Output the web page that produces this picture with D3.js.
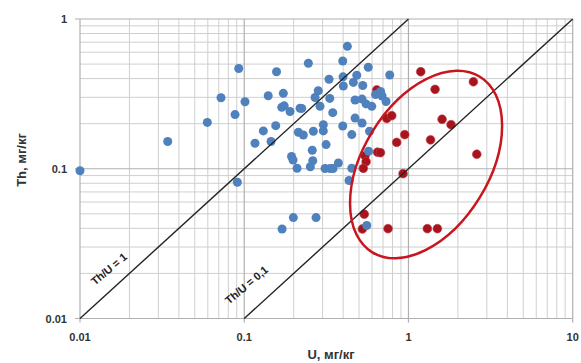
<!DOCTYPE html>
<html><head><meta charset="utf-8">
<script src="https://cdn.jsdelivr.net/npm/d3@7/dist/d3.min.js"></script>
<style>html,body{margin:0;padding:0;background:#fff;}svg{display:block;}</style>
</head><body>
<svg id="c" width="581" height="363"></svg>
<script>
// Blue series: U, Th (mg/kg)
const blueU  = [0.01,0.0342,0.0596,0.0722,0.0926,0.0879,0.1011,0.1163,0.1307,0.1456,0.1555,0.140,0.1573,0.173,0.1692,0.1752,0.190,0.1941,0.1983,0.2097,0.2136,0.2187,0.0908,0.1991,0.170,0.2737,0.4246,0.2457,0.398,0.569,0.769,0.3284,0.3997,0.4843,0.4618,0.5269,0.4013,0.2823,0.270,0.3317,0.4729,0.5217,0.5517,0.5976,0.6304,0.6764,0.6907,0.7304,0.2894,0.2239,0.3459,0.4729,0.5217,0.3031,0.398,0.3031,0.2635,0.2290,0.4516,0.5796,0.315,0.2595,0.2614,0.2527,0.3105,0.3331,0.3474,0.3742,0.4516,0.5715,0.4347,0.5572];
const blueTh = [0.097,0.152,0.204,0.298,0.467,0.230,0.280,0.148,0.179,0.152,0.194,0.3075,0.4445,0.319,0.257,0.263,0.241,0.1207,0.1144,0.1007,0.1754,0.2533,0.0812,0.0472,0.0396,0.0472,0.657,0.506,0.524,0.476,0.423,0.396,0.411,0.421,0.377,0.360,0.357,0.332,0.299,0.295,0.288,0.292,0.271,0.261,0.313,0.328,0.306,0.281,0.261,0.253,0.237,0.218,0.202,0.197,0.193,0.179,0.178,0.168,0.169,0.178,0.145,0.133,0.113,0.1032,0.1004,0.1004,0.1004,0.1093,0.1007,0.1308,0.0835,0.0418];
// Red series
const redU  = [1.188,2.485,1.452,0.641,0.738,0.791,1.602,1.817,0.949,0.848,1.363,2.606,0.648,0.675,0.544,0.552,0.531,0.927,0.538,0.524,0.751,1.303,1.500];
const redTh = [0.4445,0.381,0.339,0.336,0.2166,0.226,0.214,0.197,0.169,0.150,0.156,0.125,0.129,0.128,0.122,0.1115,0.1007,0.0927,0.0497,0.0396,0.0398,0.0398,0.0398];
// Reference lines Th/U
const ratioLines = [{ratio:1, u0:0.01, u1:1, label:"Th/U = 1"},{ratio:0.1, u0:0.1, u1:10, label:"Th/U = 0,1"}];
const xTicks = [0.01,0.1,1,10];
const xTickLabels = ["0.01","0.1","1","10"];
const yTicks = [0.01,0.1,1];
const yTickLabels = ["0.01","0.1","1"];
const ellipseCenter = {u:1.28, th:0.1067};

const svg = d3.select("#c");
const L=80, R=572.7, T=19, B=318.5;
const x = d3.scaleLog().domain([0.01,10]).range([L,R]);
const y = d3.scaleLog().domain([0.01,1]).range([B,T]);

// minor grid
const minorX=[], minorY=[];
[0.01,0.1,1].forEach(d=>{for(let k=2;k<=9;k++) minorX.push(d*k);});
[0.01,0.1].forEach(d=>{for(let k=2;k<=9;k++) minorY.push(d*k);});
const g = svg.append("g");
g.selectAll(".mx").data(minorX).join("line").attr("x1",d=>x(d)).attr("x2",d=>x(d)).attr("y1",T).attr("y2",B).attr("stroke","#cfcfcf").attr("stroke-width",1);
g.selectAll(".my").data(minorY).join("line").attr("y1",d=>y(d)).attr("y2",d=>y(d)).attr("x1",L).attr("x2",R).attr("stroke","#cfcfcf").attr("stroke-width",1);
g.selectAll(".Mx").data(xTicks).join("line").attr("x1",d=>x(d)).attr("x2",d=>x(d)).attr("y1",T).attr("y2",B+4).attr("stroke","#b0b0b0").attr("stroke-width",1.2);
g.selectAll(".My").data(yTicks).join("line").attr("y1",d=>y(d)).attr("y2",d=>y(d)).attr("x1",L-5).attr("x2",R).attr("stroke","#b0b0b0").attr("stroke-width",1.2);

// tick labels
const tf = "'Liberation Sans', Arial, sans-serif";
svg.selectAll(".xl").data(xTicks).join("text").attr("x",d=>x(d)).attr("y",341)
  .attr("text-anchor","middle").attr("font-family",tf).attr("font-weight","bold").attr("font-size",11).attr("fill","#333")
  .text((d,i)=>xTickLabels[i]);
svg.selectAll(".yl").data(yTicks).join("text").attr("x",67).attr("y",d=>y(d)+4)
  .attr("text-anchor","end").attr("font-family",tf).attr("font-weight","bold").attr("font-size",11).attr("fill","#333")
  .text((d,i)=>yTickLabels[i]);

// axis titles
svg.append("text").attr("x",331).attr("y",359).attr("text-anchor","middle").attr("font-family",tf)
  .attr("font-weight","bold").attr("font-size",13).attr("fill","#333").text("U, мг/кг");
svg.append("text").attr("transform","translate(26,160) rotate(-90)").attr("text-anchor","middle").attr("font-family",tf)
  .attr("font-weight","bold").attr("font-size",13).attr("fill","#333").text("Th, мг/кг");

// points: red then blue
const red = redU.map((u,i)=>({u,th:redTh[i]}));
const blue = blueU.map((u,i)=>({u,th:blueTh[i]}));
svg.append("g").selectAll("circle").data(red).join("circle").attr("cx",d=>x(d.u)).attr("cy",d=>y(d.th)).attr("r",4.4)
  .attr("fill","#A8141C").attr("stroke","#c0404a").attr("stroke-width",0.6);
svg.append("g").selectAll("circle").data(blue).join("circle").attr("cx",d=>x(d.u)).attr("cy",d=>y(d.th)).attr("r",4.5)
  .attr("fill","#4F81BD");

// ratio lines
svg.append("g").selectAll("line").data(ratioLines).join("line")
  .attr("x1",d=>x(d.u0)).attr("y1",d=>y(d.u0*d.ratio)).attr("x2",d=>x(d.u1)).attr("y2",d=>y(d.u1*d.ratio))
  .attr("stroke","#222").attr("stroke-width",1.4);
const labPos = [{u:0.0150, th:0.0214},{u:0.1033, th:0.01674}];
svg.append("g").selectAll("text").data(ratioLines).join("text")
  .attr("transform",(d,i)=>`translate(${x(labPos[i].u)},${y(labPos[i].th)}) rotate(-40)`)
  .attr("text-anchor","middle").attr("dy","0.35em").attr("font-family",tf).attr("font-weight","bold").attr("font-size",11).attr("fill","#222")
  .text(d=>d.label);

// ellipse
svg.append("ellipse").attr("cx",0).attr("cy",0).attr("rx",103).attr("ry",63)
  .attr("transform",`translate(${x(ellipseCenter.u)},${y(ellipseCenter.th)}) rotate(-58.5)`)
  .attr("fill","none").attr("stroke","#C8161E").attr("stroke-width",2.5);
</script>
</body></html>
